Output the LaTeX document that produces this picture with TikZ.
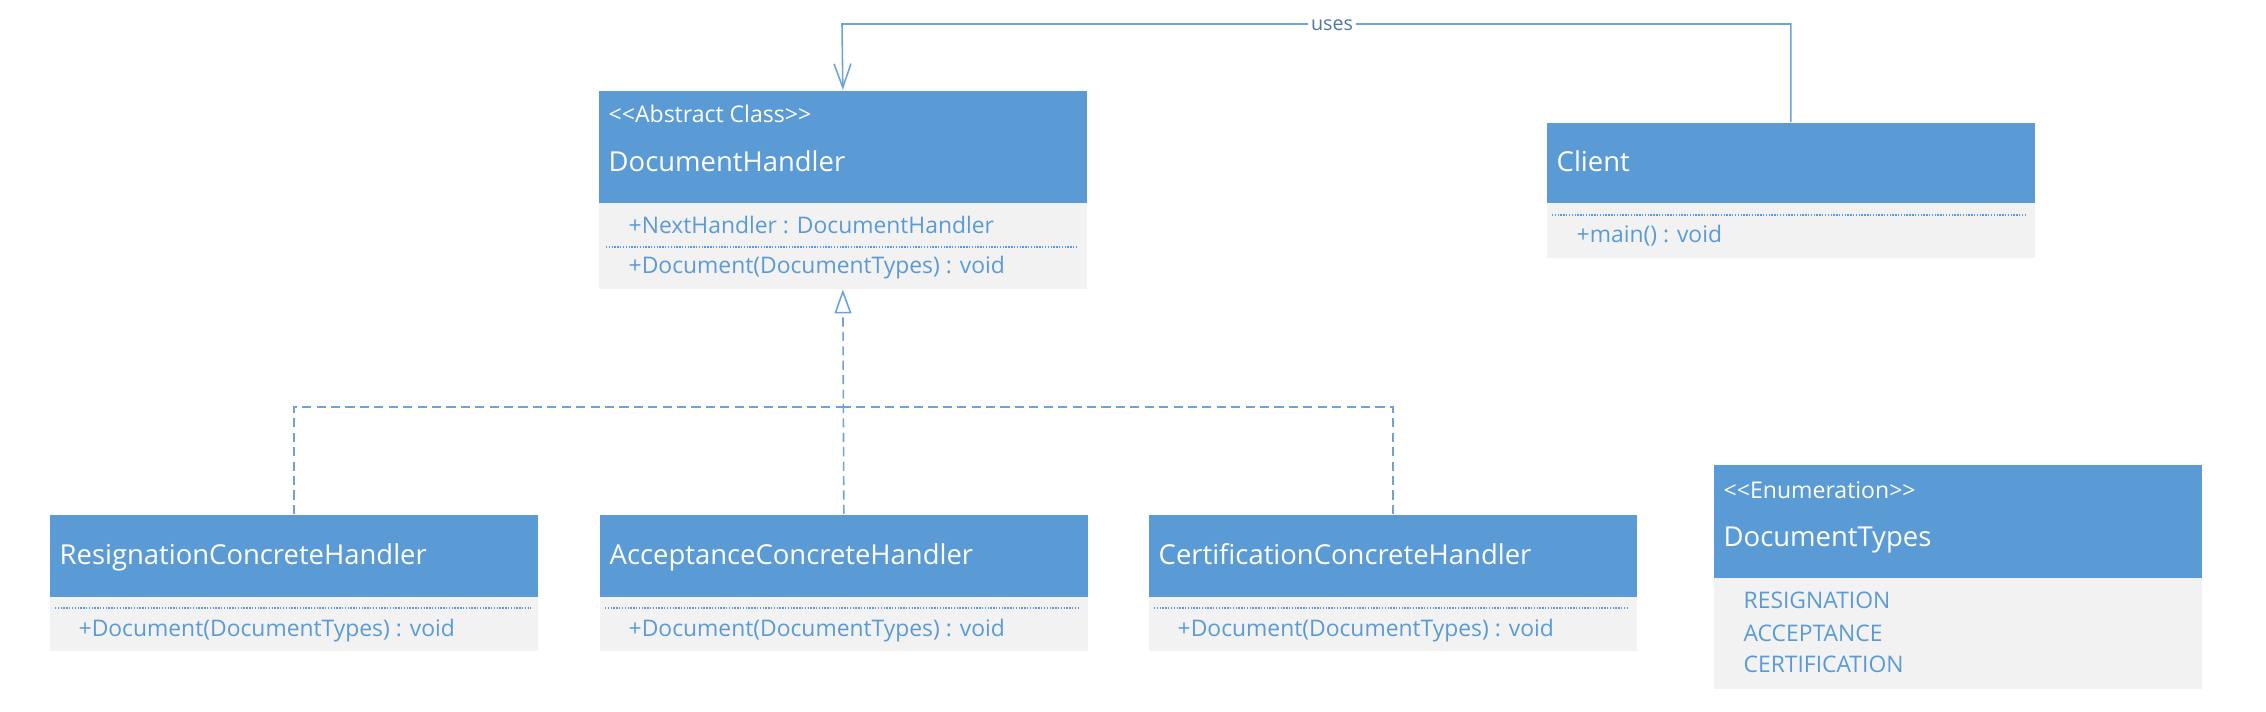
\documentclass[tikz,border=0pt]{standalone}
\usepackage{fontspec}
\setmainfont{Open Sans}
\usetikzlibrary{arrows.meta}
\definecolor{hblue}{HTML}{5B9BD5}
\definecolor{bgray}{HTML}{F2F2F2}
\definecolor{lblue}{HTML}{6FA3D8}
\definecolor{ublue}{HTML}{4F78A3}
\newcommand\ltlt{<\kern0pt<}
\newcommand\gtgt{>\kern0pt>}

\begin{document}
\begin{tikzpicture}[x=0.01cm,y=-0.01cm,
  hd/.style={fill=hblue,anchor=north west,minimum width=4.88cm,inner sep=0pt},
  bd/.style={fill=bgray,anchor=north west,minimum width=4.88cm,inner sep=0pt},
  nm/.style={anchor=base west,inner sep=0pt,text=white,font=\fontsize{7.8}{9}\selectfont},
  st/.style={anchor=base west,inner sep=0pt,text=white,font=\fontsize{6.55}{8}\selectfont},
  mb/.style={anchor=base west,inner sep=0pt,text=hblue,font=\fontsize{6.5}{8}\selectfont},
  sep/.style={hblue,line width=0.35pt,dash pattern=on 0.4pt off 0.4pt},
  lnk/.style={lblue,line width=0.45pt},
  impl/.style={lnk,dash pattern=on 2.6pt off 1.5pt}]
  \useasboundingbox (0,0) rectangle (2266,712);
  \node[hd,minimum height=1.12cm] (dh) at (598,90) {};
  \node[bd,minimum height=0.86cm] (dhb) at (598,202) {};
  \node[st] (dhst) at (608,123) {\ltlt Abstract Class\gtgt};
  \node[nm] (dhname) at (608,171) {DocumentHandler};
  \node[mb] (dhattr) at (628,233) {+NextHandler : DocumentHandler};
  \draw[sep] (606,247) -- (1078,247);
  \node[mb] (dhop) at (628,273) {+Document(DocumentTypes) : void};
  \node[hd,minimum height=0.80cm] (cl) at (1546,122) {};
  \node[bd,minimum height=0.55cm] (clb) at (1546,202) {};
  \node[nm] (clname) at (1556,171) {Client};
  \draw[sep] (1552,215) -- (2026,215);
  \node[mb] (clop) at (1576,242) {+main() : void};
  \node[hd,minimum height=0.82cm] (res) at (49,514) {};
  \node[bd,minimum height=0.54cm] (resb) at (49,596) {};
  \node[nm] (resname) at (59,564) {ResignationConcreteHandler};
  \draw[sep] (55,608) -- (531,608);
  \node[mb] (resop) at (78,636) {+Document(DocumentTypes) : void};
  \node[hd,minimum height=0.82cm] (acc) at (599,514) {};
  \node[bd,minimum height=0.54cm] (accb) at (599,596) {};
  \node[nm] (accname) at (609,564) {AcceptanceConcreteHandler};
  \draw[sep] (605,608) -- (1080,608);
  \node[mb] (accop) at (628,636) {+Document(DocumentTypes) : void};
  \node[hd,minimum height=0.82cm] (cer) at (1148,514) {};
  \node[bd,minimum height=0.54cm] (cerb) at (1148,596) {};
  \node[nm] (cername) at (1158,564) {CertificationConcreteHandler};
  \draw[sep] (1154,608) -- (1629,608);
  \node[mb] (cerop) at (1177,636) {+Document(DocumentTypes) : void};
  \node[hd,minimum height=1.13cm] (dt) at (1713,464) {};
  \node[bd,minimum height=1.11cm] (dtb) at (1713,577) {};
  \node[st] (dtst) at (1723,498) {\ltlt Enumeration\gtgt};
  \node[nm] (dtname) at (1723,546) {DocumentTypes};
  \node[mb] (dtres) at (1743,608) {RESIGNATION};
  \node[mb] (dtacc) at (1743,641) {ACCEPTANCE};
  \node[mb] (dtcer) at (1743,672) {CERTIFICATION};
  \coordinate (usetop) at (842,24);
  \coordinate (hub) at (842,407);
  \draw[lnk,-{Straight Barb[length=6.8pt,width=4.8pt]}] (cl.north) |- (usetop) -- (dh.north);
  \node[anchor=base,fill=white,inner xsep=1pt,inner ysep=0.5pt,text=ublue,font=\fontsize{5.6}{7}\selectfont] (uses) at (1332,31) {uses};
  \draw[impl] (res.north) |- (hub);
  \draw[impl] (cer.north) |- (hub);
  \draw[impl,-{Triangle[open,fill=white,length=6.8pt,width=4.8pt]}] (acc.north) -- (dhb.south);
\end{tikzpicture}
\end{document}
